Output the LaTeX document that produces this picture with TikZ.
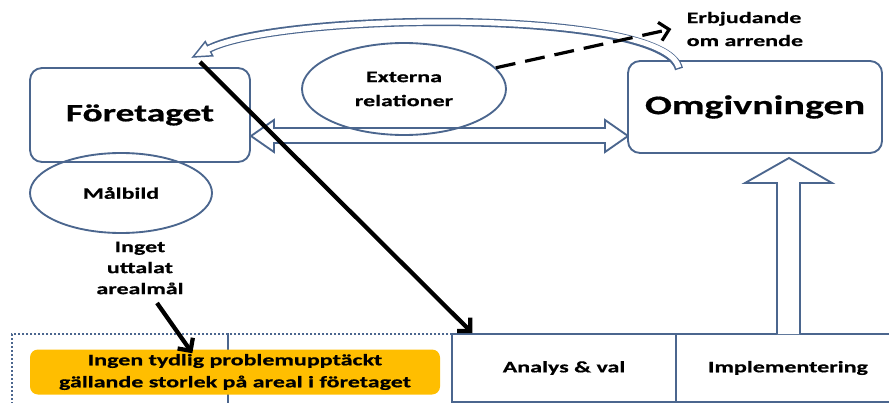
\documentclass[tikz,border=0pt]{standalone}
\usepackage{fontspec}
\setmainfont[FakeStretch=1.5, BoldFeatures={FakeBold=0.6}]{Carlito}
\usetikzlibrary{arrows.meta,shapes.geometric}
\definecolor{blu}{RGB}{75,102,142}
\definecolor{gul}{RGB}{255,190,0}
\begin{document}
\begin{tikzpicture}[x=0.75pt,y=-0.75pt,
    font=\bfseries\fontsize{12}{16}\selectfont,
    box/.style={draw=blu, line width=1.4pt, rounded corners=9pt, fill=white},
    oval/.style={draw=blu, line width=1.4pt, ellipse, align=center},
    fas/.style={draw=blu, line width=1.4pt, minimum width=168pt, minimum height=51pt},
    prick/.style={draw=blu, dash pattern=on 1.6pt off 1.4pt, line width=2pt, minimum height=57pt},
    svart/.style={black, line width=3.2pt, -{Straight Barb[length=7pt,width=14pt]}}]
                \clip (0,0) rectangle (889,403);

                % dotted frame and steps at the bottom
                \node[prick, minimum width=162pt] (fas1) at (120,372) {};
                \node[prick, minimum width=168pt] (fas2) at (340,372) {};
                \node[fill=gul, rounded corners=6pt, minimum width=307.5pt, minimum height=33.75pt,
                      align=center, font=\bfseries\fontsize{12}{16.5}\selectfont] (problem) at (235,372)
                      {Ingen tydlig problemupptäckt\\gällande storlek på areal i företaget};
                \node[fas] (analys) at (564,368) {Analys \& val};
                \node[fas] (impl) at (788,368) {Implementering};

                % double block arrow between the boxes
                \draw[blu, line width=1.4pt] (251,136) -- (274,120) -- (274,128) -- (605,128) -- (605,120)
                      -- (628,136) -- (605,152) -- (605,143) -- (274,143) -- (274,152) -- cycle;

                % block arrow up to the surroundings
                \draw[blu, line width=1.4pt, fill=white] (777,334) -- (777,183) -- (745,183) -- (789,158)
                      -- (832,183) -- (800,183) -- (800,334);

                \node[box, minimum width=165pt, minimum height=70.5pt,
                      font=\bfseries\fontsize{18.7}{22}\selectfont] (foretaget) at (140,115) {Företaget};
                \node[box, minimum width=190.5pt, minimum height=69pt,
                      font=\bfseries\fontsize{20}{24}\selectfont] (omgivning) at (755,107) {Omgivningen};

                \node[oval, minimum width=153pt, minimum height=69pt,
                      font=\bfseries\fontsize{12}{18}\selectfont] (externa) at (404,89) {Externa\\relationer};
                \node[oval, minimum width=136.5pt, minimum height=60pt] (malbild) at (121,193) {Målbild};

                \node[align=center, font=\bfseries\fontsize{12}{15.75}\selectfont] (inget) at (140,268)
                      {Inget\\uttalat\\arealmål};
                \node[align=left, anchor=west, font=\bfseries\fontsize{12}{17.25}\selectfont] (erbj) at (682,29)
                      {Erbjudande\\om arrende};

                % curved arrow back to the company
                \draw[blu, fill=white, line width=1.1pt] (193,57) -- (205.3,41.6) -- (212.7,55.8) -- cycle;
                \draw[blu, line width=6.2pt] (679,69) .. controls (665,8) and (280,12) .. (209,48.7);
                \draw[white, line width=4pt, shorten <=1.1pt, shorten >=-1.5pt]
                      (679,69) .. controls (665,8) and (280,12) .. (209,48.7);

                \coordinate (start) at (200,62);
                \coordinate (inget-ut) at (157,303);

                \draw[svart, dash pattern=on 15pt off 7.5pt, line width=2.4pt] (externa.13) -- ([xshift=-8pt]erbj.west);
                \draw[svart] (inget-ut) -- ([xshift=-32pt,yshift=-3pt]problem.north);
                \draw[svart] (start) -- ([xshift=16pt]analys.north west);
            \end{tikzpicture}
\end{document}
